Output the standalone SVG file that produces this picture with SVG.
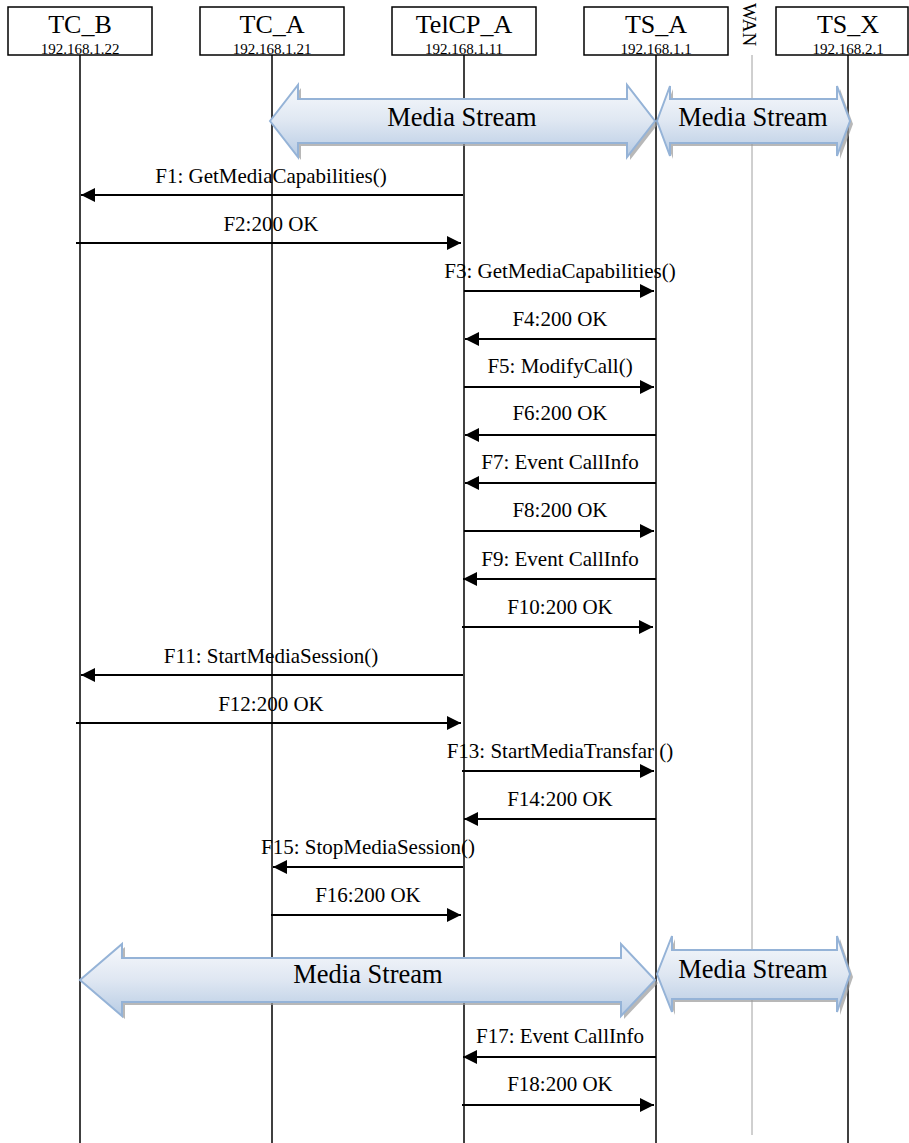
<svg xmlns="http://www.w3.org/2000/svg" width="909" height="1143" viewBox="0 0 909 1143">
<defs>
<linearGradient id="ms" x1="0" y1="0" x2="0" y2="1">
<stop offset="0" stop-color="#f7f9fc"/>
<stop offset="0.5" stop-color="#dfe7f2"/>
<stop offset="1" stop-color="#b8cce4"/>
</linearGradient>
<marker id="ah" viewBox="0 0 10 10" refX="10" refY="5" markerWidth="7" markerHeight="7" markerUnits="strokeWidth" orient="auto">
<path d="M0,0 L10,5 L0,10 Z" fill="#000"/>
</marker>
<style>
.box{fill:#fff;stroke:#000;stroke-width:1.5}
.life{stroke:#000;stroke-width:1.5}
.wan{stroke:#a0a0a0;stroke-width:1}
.ttl{font-family:"Liberation Serif","Times New Roman",serif;font-size:26px;text-anchor:middle;fill:#000}
.ip{font-family:"Liberation Serif","Times New Roman",serif;font-size:15px;text-anchor:middle;fill:#000}
.msg{stroke:#000;stroke-width:2;fill:none;marker-end:url(#ah)}
.lbl{font-family:"Liberation Serif","Times New Roman",serif;font-size:21px;text-anchor:middle;fill:#000}
.ms{fill:url(#ms);stroke:#95b3d7;stroke-width:2}
.sh{fill:#9a9a9a;opacity:0.7}
.mst{font-family:"Liberation Serif","Times New Roman",serif;font-size:26.5px;text-anchor:middle;fill:#000}
</style>
</defs>
<rect width="909" height="1143" fill="#fff"/>

<g id="lifelines">
<line class="life" x1="80" y1="55" x2="80" y2="1143"/>
<line class="life" x1="272" y1="55" x2="272" y2="1143"/>
<line class="life" x1="464" y1="55" x2="464" y2="1143"/>
<line class="life" x1="656" y1="55" x2="656" y2="1143"/>
<line class="life" x1="848" y1="55" x2="848" y2="1143"/>
<line class="wan" x1="752" y1="55" x2="752" y2="1135"/>
</g>

<g id="TC_B">
<rect class="box" x="8" y="7" width="144" height="48"/>
<text class="ttl" x="80" y="33">TC_B</text>
<text class="ip" x="80" y="54">192.168.1.22</text>
</g>
<g id="TC_A">
<rect class="box" x="200" y="7" width="144" height="48"/>
<text class="ttl" x="272" y="33">TC_A</text>
<text class="ip" x="272" y="54">192.168.1.21</text>
</g>
<g id="TelCP_A">
<rect class="box" x="392" y="7" width="144" height="48"/>
<text class="ttl" x="464" y="33">TelCP_A</text>
<text class="ip" x="464" y="54">192.168.1.11</text>
</g>
<g id="TS_A">
<rect class="box" x="584" y="7" width="144" height="48"/>
<text class="ttl" x="656" y="33">TS_A</text>
<text class="ip" x="656" y="54">192.168.1.1</text>
</g>
<g id="TS_X">
<rect class="box" x="776" y="7" width="132" height="48"/>
<text class="ttl" x="848" y="33">TS_X</text>
<text class="ip" x="848" y="54">192.168.2.1</text>
</g>
<g id="WAN">
<text transform="translate(743,3) rotate(90)" font-family="Liberation Serif, Times New Roman, serif" font-size="19" fill="#000">WAN</text>
</g>

<g id="media1">
<path class="sh" transform="translate(3,3)" d="M270,121 L298,85 L298,99 L627,99 L627,85 L655,121 L627,157 L627,143 L298,143 L298,157 Z"/>
<path class="ms" d="M270,121 L298,85 L298,99 L627,99 L627,85 L655,121 L627,157 L627,143 L298,143 L298,157 Z"/>
<text class="mst" x="462" y="126">Media Stream</text>
</g>
<g id="media2">
<path class="sh" transform="translate(3,3)" d="M657,121 L670,86 L670,99 L837,99 L837,86 L850,121 L837,156 L837,143 L670,143 L670,156 Z"/>
<path class="ms" d="M657,121 L670,86 L670,99 L837,99 L837,86 L850,121 L837,156 L837,143 L670,143 L670,156 Z"/>
<text class="mst" x="753" y="126">Media Stream</text>
</g>
<g id="media3">
<path class="sh" transform="translate(3,3)" d="M80,980 L122,944 L122,958 L621,958 L621,944 L655,980 L621,1016 L621,1002 L122,1002 L122,1016 Z"/>
<path class="ms" d="M80,980 L122,944 L122,958 L621,958 L621,944 L655,980 L621,1016 L621,1002 L122,1002 L122,1016 Z"/>
<text class="mst" x="368" y="983">Media Stream</text>
</g>
<g id="media4">
<path class="sh" transform="translate(3,3)" d="M657,974 L672,936 L672,950 L837,950 L837,936 L850,974 L837,1012 L837,999 L672,999 L672,1012 Z"/>
<path class="ms" d="M657,974 L672,936 L672,950 L837,950 L837,936 L850,974 L837,1012 L837,999 L672,999 L672,1012 Z"/>
<text class="mst" x="753" y="978">Media Stream</text>
</g>

<g id="connectors">
<line class="msg" x1="463" y1="195" x2="81" y2="195"/>
<line class="msg" x1="76" y1="243" x2="461" y2="243"/>
<line class="msg" x1="464" y1="291" x2="654" y2="291"/>
<line class="msg" x1="656" y1="339" x2="465" y2="339"/>
<line class="msg" x1="464" y1="387" x2="654" y2="387"/>
<line class="msg" x1="656" y1="435" x2="465" y2="435"/>
<line class="msg" x1="656" y1="483" x2="465" y2="483"/>
<line class="msg" x1="464" y1="531" x2="654" y2="531"/>
<line class="msg" x1="656" y1="579" x2="463" y2="579"/>
<line class="msg" x1="462" y1="627" x2="653" y2="627"/>
<line class="msg" x1="463" y1="675" x2="81" y2="675"/>
<line class="msg" x1="76" y1="723" x2="461" y2="723"/>
<line class="msg" x1="462" y1="771" x2="654" y2="771"/>
<line class="msg" x1="656" y1="819" x2="464" y2="819"/>
<line class="msg" x1="463" y1="867" x2="273" y2="867"/>
<line class="msg" x1="271" y1="915" x2="461" y2="915"/>
<line class="msg" x1="656" y1="1057" x2="463" y2="1057"/>
<line class="msg" x1="462" y1="1105" x2="654" y2="1105"/>
</g>

<g id="labels">
<text class="lbl" x="271" y="183">F1: GetMediaCapabilities()</text>
<text class="lbl" x="271" y="231">F2:200 OK</text>
<text class="lbl" x="560" y="278">F3: GetMediaCapabilities()</text>
<text class="lbl" x="560" y="326">F4:200 OK</text>
<text class="lbl" x="560" y="373">F5: ModifyCall()</text>
<text class="lbl" x="560" y="420">F6:200 OK</text>
<text class="lbl" x="560" y="469">F7: Event CallInfo</text>
<text class="lbl" x="560" y="517">F8:200 OK</text>
<text class="lbl" x="560" y="566">F9: Event CallInfo</text>
<text class="lbl" x="560" y="614">F10:200 OK</text>
<text class="lbl" x="271" y="663">F11: StartMediaSession()</text>
<text class="lbl" x="271" y="711">F12:200 OK</text>
<text class="lbl" x="560" y="758">F13: StartMediaTransfar ()</text>
<text class="lbl" x="560" y="806">F14:200 OK</text>
<text class="lbl" x="368" y="854">F15: StopMediaSession()</text>
<text class="lbl" x="368" y="902">F16:200 OK</text>
<text class="lbl" x="560" y="1043">F17: Event CallInfo</text>
<text class="lbl" x="560" y="1091">F18:200 OK</text>
</g>
</svg>
